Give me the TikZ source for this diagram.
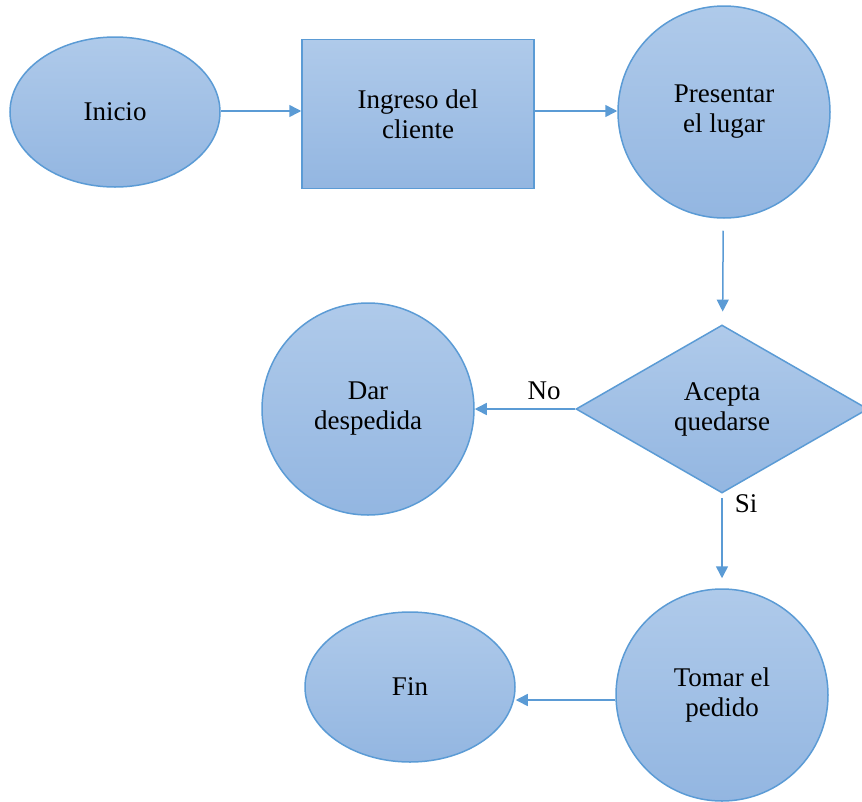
\documentclass[tikz,border=0pt]{standalone}
\usepackage{fontspec}
\setmainfont{Liberation Serif}
\usetikzlibrary{shapes.geometric,arrows.meta}
\definecolor{edgeblue}{HTML}{5B9BD5}
\definecolor{filltop}{HTML}{AFCAEA}
\definecolor{fillbot}{HTML}{93B6E1}
\tikzset{
  blob/.style={draw=edgeblue, line width=1.5pt, top color=filltop, bottom color=fillbot,
    inner sep=0pt, align=center, font=\fontsize{27}{30}\selectfont},
  ovalnode/.style={blob, ellipse, minimum width=210pt, minimum height=150pt},
  roundnode/.style={blob, circle, minimum size=212pt},
  boxnode/.style={blob, rectangle, minimum width=232pt, minimum height=149pt},
  choicenode/.style={blob, diamond, minimum width=292pt, minimum height=168pt},
  arr/.style={draw=edgeblue, line width=1.5pt, -{Triangle[length=12pt,width=12pt]}},
  lbl/.style={font=\fontsize{27}{30}\selectfont, inner sep=2pt}
}
\begin{document}
\begin{tikzpicture}[x=1pt,y=-1pt]
\useasboundingbox (0,0) rectangle (862,801);
\clip (0,0) rectangle (862,801);
\node[ovalnode] (inicio) at (115,112) {Inicio};
\node[boxnode] (ingreso) at (418,114) {Ingreso del\\cliente};
\node[roundnode] (presentar) at (724,112) {Presentar\\el lugar};
\node[choicenode] (acepta) at (722,409) {Acepta\\quedarse};
\node[roundnode] (dar) at (368,409) {Dar\\despedida};
\node[roundnode] (tomar) at (722,695) {Tomar el\\pedido};
\node[ovalnode] (fin) at (410,687) {Fin};

\draw[arr] ([yshift=1pt]inicio.east) -- ([yshift=1pt]inicio.east -| ingreso.west);
\draw[arr] ([yshift=3pt]ingreso.east) -- ([yshift=3pt]ingreso.east -| presentar.west);
\draw[arr, shorten <=12pt, shorten >=13pt] (presentar) -- (acepta);
\draw[arr] (acepta.west) -- (dar.east)
  node[lbl, pos=0.31, above=6pt] (no) {No};
\draw[arr, shorten <=4pt, shorten >=10pt] (acepta.south) -- (tomar.north)
  node[lbl, pos=0.1, right=10pt] (si) {Si};
\draw[arr] ([yshift=-5pt]tomar.west) -- ([yshift=-5pt]tomar.west -| fin.east);
\end{tikzpicture}
\end{document}
